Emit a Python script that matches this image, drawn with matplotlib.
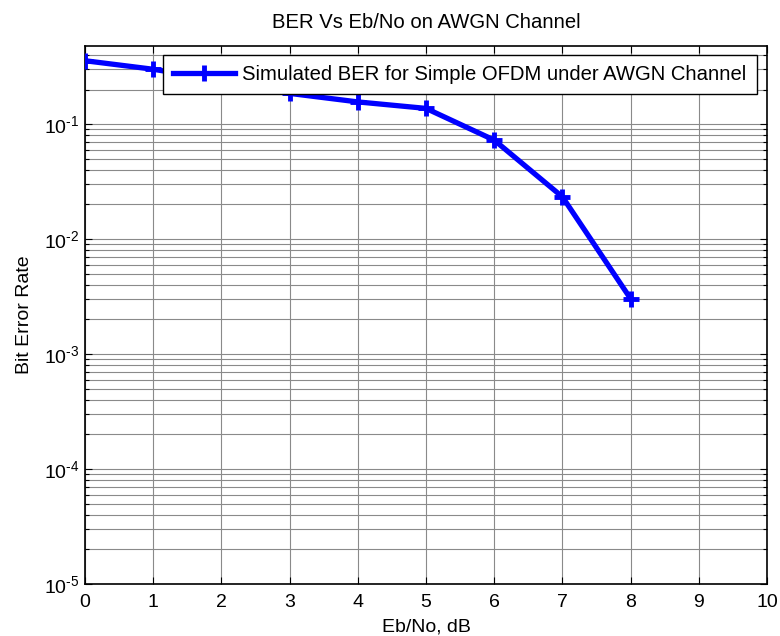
import matplotlib
matplotlib.use("Agg")
import matplotlib.pyplot as plt
from matplotlib.ticker import LogLocator, NullFormatter, FixedLocator, FuncFormatter
import numpy as np

plt.rcParams['font.family'] = ['Liberation Sans', 'DejaVu Sans']
plt.rcParams['mathtext.fontset'] = 'custom'
plt.rcParams['mathtext.rm'] = 'Liberation Sans'
plt.rcParams['mathtext.it'] = 'Liberation Sans'
plt.rcParams['mathtext.default'] = 'regular'

ebno_db = [0, 1, 2, 3, 4, 5, 6, 7, 8]
ber = [0.356, 0.300, 0.240, 0.185, 0.156, 0.137, 0.0726, 0.0233, 0.00303]
x_ticks = [0, 1, 2, 3, 4, 5, 6, 7, 8, 9, 10]
title = "BER Vs Eb/No on AWGN Channel"
xlabel = "Eb/No, dB"
ylabel = "Bit Error Rate"
legend_label = "Simulated BER for Simple OFDM under AWGN Channel"

fs = 14
fs_big = 14.6

fig = plt.figure(figsize=(7.8, 6.36), dpi=100)
ax = fig.add_axes([85/780, 1 - 584/636, (767-85)/780, (584-46)/636])

ax.semilogy(ebno_db, ber, color=(0, 0, 1), lw=3.8, marker='+', ms=11, mew=3.5,
            label=legend_label, zorder=3)

ax.set_xlim(0, 10)
ax.set_ylim(1e-5, 0.478)
ax.xaxis.set_major_locator(FixedLocator(x_ticks))
ax.yaxis.set_major_locator(LogLocator(base=10, numticks=20))
ax.yaxis.set_minor_locator(LogLocator(base=10, subs=range(2, 10), numticks=20))
ax.yaxis.set_minor_formatter(NullFormatter())


def yfmt(v, pos):
    e = int(round(np.log10(v)))
    return r'$10^{\text{%d}}$' % e


ax.yaxis.set_major_formatter(FuncFormatter(yfmt))

ax.grid(True, which='major', color='#8a8a8a', lw=0.8, ls='-')
ax.grid(True, which='minor', axis='y', color='#8a8a8a', lw=0.8, ls='-')
ax.set_axisbelow(True)

ax.tick_params(direction='in', top=True, right=True, which='both', labelsize=fs,
               length=5, width=0.8)
ax.tick_params(axis='x', pad=7)
ax.tick_params(axis='y', pad=4)
ax.tick_params(which='minor', length=3)
for s in ax.spines.values():
    s.set_linewidth(1.2)

ax.set_title(title, fontsize=fs_big, pad=13)
ax.set_xlabel(xlabel, fontsize=fs, labelpad=5.5)
ax.set_ylabel(ylabel, fontsize=fs, labelpad=8)

leg = ax.legend(loc='upper right', fontsize=fs_big, frameon=True, fancybox=False,
                framealpha=1, edgecolor='black', borderpad=0.5, handlelength=3.05,
                handletextpad=0.35, borderaxespad=0,
                bbox_to_anchor=(0.985, 0.983))
leg.get_frame().set_linewidth(1.0)

fig.savefig("out.png", dpi=100)
